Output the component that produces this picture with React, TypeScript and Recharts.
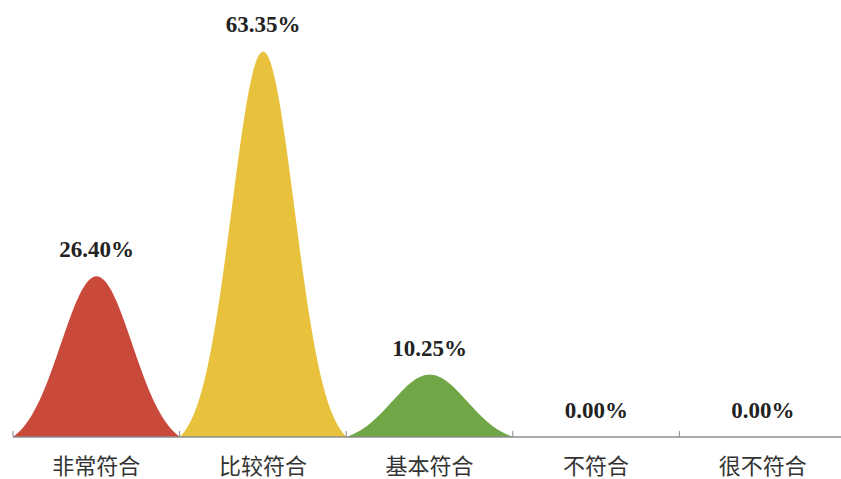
import React from 'react';
import { BarChart, Bar, XAxis, YAxis, LabelList, Cell } from 'recharts';

const categories = ['非常符合', '比较符合', '基本符合', '不符合', '很不符合'];
const percentages = [26.4, 63.35, 10.25, 0, 0];
const colors = ['#c94a3b', '#e8c23c', '#71a647', '#999999', '#999999'];

const data = categories.map((name, i) => ({ name, value: percentages[i] }));
const MAX_VALUE = Math.max(...percentages);

const CHART_W = 846;
const CHART_H = 479;
const MARGIN = { top: 11, right: 0, bottom: 0, left: 13 };
const STEP = (CHART_W - MARGIN.left - MARGIN.right) / categories.length;

const BellShape = (props: any) => {
  const { x, y, width, height, fill, value } = props;
  if (!height || height <= 0) return null;
  const v = Array.isArray(value) ? value[1] : value;
  const frac = Math.min(1, (Number(v) || 0) / MAX_VALUE);
  const base = y + height;
  const sigma = 0.232 - 0.045 * frac;
  const gEdge = Math.exp(-0.5 * Math.pow(0.5 / sigma, 2));
  const n = 90;
  let d = `M${x},${base}`;
  for (let i = 0; i <= n; i++) {
    const t = i / n;
    const g = Math.exp(-0.5 * Math.pow((t - 0.5) / sigma, 2));
    const f = (g - gEdge) / (1 - gEdge);
    d += ` L${(x + t * width).toFixed(2)},${(base - f * height).toFixed(2)}`;
  }
  d += ` L${x + width},${base} Z`;
  return <path d={d} fill={fill} />;
};

const AxisTick = (props: any) => {
  const { x, payload } = props;
  const axisY = 437;
  const bx = x - STEP / 2;
  return (
    <g>
      <line x1={bx} y1={axisY} x2={bx} y2={axisY - 6} stroke="#8c8c8c" strokeWidth={1} />
      {payload.index === categories.length - 1 ? (
        <line x1={x + STEP / 2} y1={axisY} x2={x + STEP / 2} y2={axisY - 6} stroke="#8c8c8c" strokeWidth={1} />
      ) : null}
      <text
        x={x}
        y={axisY + 37}
        textAnchor="middle"
        fontSize={22}
        fill="#333333"
        fontFamily="'Noto Sans CJK SC', sans-serif"
      >
        {payload.value}
      </text>
    </g>
  );
};

export default function App() {
  return (
    <div style={{ position: 'absolute', left: 0, top: 0, width: 841, height: 479, overflow: 'hidden', background: '#fff' }}>
      <BarChart width={CHART_W} height={CHART_H} data={data} margin={MARGIN} barCategoryGap={0}>
        <XAxis
          dataKey="name"
          height={42}
          axisLine={{ stroke: '#8c8c8c', strokeWidth: 1.5 }}
          tickLine={false}
          tick={<AxisTick />}
          interval={0}
        />
        <YAxis hide domain={[0, 70]} />
        <Bar dataKey="value" shape={<BellShape />} isAnimationActive={false}>
          {data.map((d, i) => (
            <Cell key={d.name} fill={colors[i]} />
          ))}
          <LabelList
            dataKey="value"
            position="top"
            offset={19}
            formatter={(v: any) => `${Number(v).toFixed(2)}%`}
            style={{ fontFamily: "'Liberation Serif', 'Times New Roman', serif", fontWeight: 700, fontSize: 23, fill: '#222222' }}
          />
        </Bar>
      </BarChart>
    </div>
  );
}
